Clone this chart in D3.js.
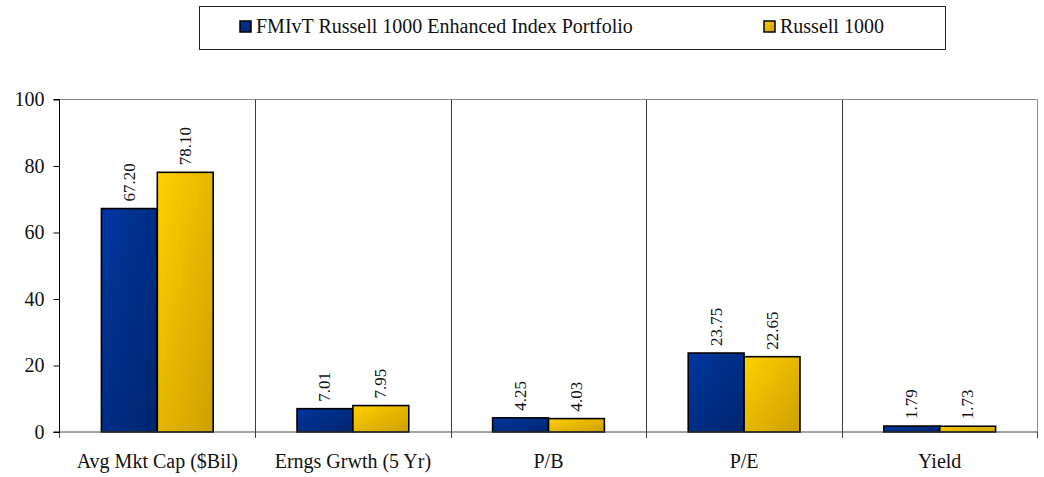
<!DOCTYPE html>
<html>
<head>
<meta charset="utf-8">
<script src="https://cdn.jsdelivr.net/npm/d3@7"></script>
<style>
  html, body { margin: 0; padding: 0; background: #fff; }
  svg { display: block; }
</style>
</head>
<body>
<svg id="chart" width="1044" height="477"></svg>
<script>
// Portfolio characteristics vs. benchmark
const categories = ["Avg Mkt Cap ($Bil)", "Erngs Grwth (5 Yr)", "P/B", "P/E", "Yield"];
const seriesNames = ["FMIvT Russell 1000 Enhanced Index Portfolio", "Russell 1000"];
const portfolioValues = [67.20, 7.01, 4.25, 23.75, 1.79];
const benchmarkValues = [78.10, 7.95, 4.03, 22.65, 1.73];
const yTicks = [0, 20, 40, 60, 80, 100];

const FONT = '"Liberation Serif", "Times New Roman", Times, serif';

const seriesValues = [portfolioValues, benchmarkValues];
const rows = categories.map((c, i) => ({
  category: c,
  values: seriesNames.map((s, j) => ({ series: s, idx: j, value: seriesValues[j][i] }))
}));

const svg = d3.select("#chart");
const plot = { left: 59.5, right: 1037.5, top: 99.5, bottom: 432 };

// Bar fills: diagonal two-tone gradients
const defs = svg.append("defs");
const grads = [
  { id: "gBlue", stops: [["0%", "#0037A6"], ["30%", "#00318F"], ["100%", "#00256F"]] },
  { id: "gGold", stops: [["0%", "#FFD200"], ["30%", "#F0C000"], ["100%", "#CCA000"]] }
];
grads.forEach(g => {
  const lg = defs.append("linearGradient").attr("id", g.id)
    .attr("x1", 0).attr("y1", 0).attr("x2", 1).attr("y2", 1);
  g.stops.forEach(([o, c]) => lg.append("stop").attr("offset", o).attr("stop-color", c));
});
const fills = ["url(#gBlue)", "url(#gGold)"];

const x0 = d3.scaleBand().domain(categories).range([plot.left, plot.right]).padding(0);
const x1 = d3.scaleBand().domain(d3.range(seriesNames.length))
  .range([0, x0.bandwidth()]).paddingInner(0).paddingOuter(0.75);
const y = d3.scaleLinear().domain([0, 100]).range([plot.bottom, plot.top]);

// Plot frame: grey top and right edges
svg.append("line").attr("x1", plot.left).attr("x2", plot.right)
  .attr("y1", plot.top).attr("y2", plot.top).attr("stroke", "#8a8a8a");
svg.append("line").attr("x1", plot.right).attr("x2", plot.right)
  .attr("y1", plot.top).attr("y2", plot.bottom).attr("stroke", "#8a8a8a");

// Vertical separators between categories
const bounds = categories.slice(1).map(c => Math.round(x0(c)) + 0.5);
svg.append("g").selectAll("line").data(bounds).join("line")
  .attr("x1", d => d).attr("x2", d => d)
  .attr("y1", plot.top).attr("y2", plot.bottom)
  .attr("stroke", "#3a3a3a").attr("stroke-width", 1);

// Bars
const groups = svg.append("g").selectAll("g").data(rows).join("g")
  .attr("transform", d => `translate(${x0(d.category)},0)`);
groups.selectAll("rect").data(d => d.values).join("rect")
  .attr("x", d => x1(d.idx))
  .attr("y", d => y(d.value))
  .attr("width", x1.bandwidth())
  .attr("height", d => y(0) - y(d.value))
  .attr("fill", d => fills[d.idx])
  .attr("stroke", "#000").attr("stroke-width", 1.6);

// Value labels, rotated above each bar
groups.selectAll("text.val").data(d => d.values).join("text")
  .attr("class", "val")
  .attr("transform", d => `translate(${x1(d.idx) + x1.bandwidth() / 2},${y(d.value) - 7}) rotate(-90)`)
  .attr("dominant-baseline", "central")
  .attr("font-family", FONT).attr("font-size", 17).attr("fill", "#111")
  .text(d => d.value.toFixed(2));

// X axis
const xAxis = svg.append("g").attr("transform", `translate(0,${plot.bottom})`);
xAxis.append("line").attr("x1", plot.left).attr("x2", plot.right)
  .attr("y1", 0).attr("y2", 0).attr("stroke", "#444");
const tickXs = [plot.left].concat(bounds, [plot.right]);
xAxis.selectAll("line.tk").data(tickXs).join("line").attr("class", "tk")
  .attr("x1", d => d).attr("x2", d => d).attr("y1", 0).attr("y2", 6)
  .attr("stroke", "#444");
xAxis.selectAll("text").data(categories).join("text")
  .attr("x", d => x0(d) + x0.bandwidth() / 2)
  .attr("y", 36)
  .attr("text-anchor", "middle")
  .attr("font-family", FONT).attr("font-size", 20).attr("fill", "#111")
  .text(d => d);

// Y axis
const yAxis = svg.append("g").attr("transform", `translate(${plot.left},0)`)
  .call(d3.axisLeft(y).tickValues(yTicks).tickSize(6).tickPadding(9).tickFormat(d3.format("d")));
yAxis.attr("font-family", FONT).attr("font-size", 20);
yAxis.select(".domain").attr("stroke", "#000").attr("d", `M-6,${plot.top}H0V${plot.bottom}H-6`);
yAxis.selectAll(".tick line").attr("stroke", "#000");
yAxis.selectAll(".tick text").attr("fill", "#111");

// Legend
const legend = svg.append("g");
legend.append("rect").attr("x", 199.5).attr("y", 6.5).attr("width", 746).attr("height", 43)
  .attr("fill", "#fff").attr("stroke", "#222").attr("stroke-width", 1);
const legendItems = [
  { x: 240, name: seriesNames[0] },
  { x: 764, name: seriesNames[1] }
];
legendItems.forEach((it, i) => {
  legend.append("rect").attr("x", it.x).attr("y", 21).attr("width", 11).attr("height", 11)
    .attr("fill", fills[i]).attr("stroke", "#000").attr("stroke-width", 1.5);
  legend.append("text").attr("x", it.x + 16).attr("y", 33)
    .attr("font-family", FONT).attr("font-size", 20).attr("fill", "#111")
    .text(it.name);
});
</script>
</body>
</html>
